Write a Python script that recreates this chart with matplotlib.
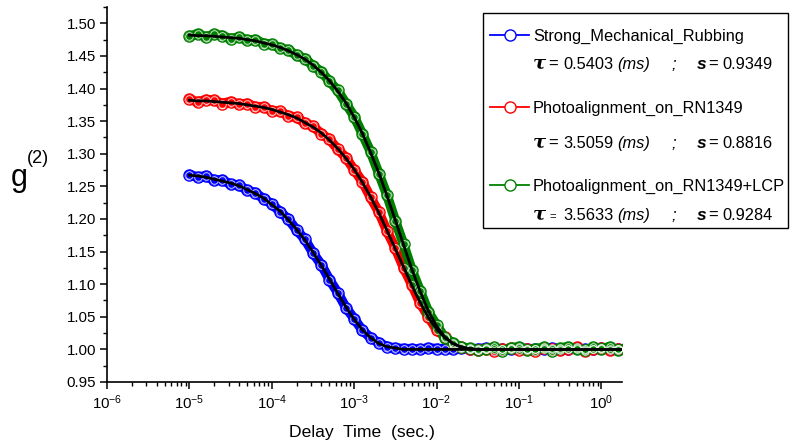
import numpy as np
import matplotlib
matplotlib.use("Agg")
import matplotlib.pyplot as plt
from matplotlib.lines import Line2D
from matplotlib.patches import Rectangle
from matplotlib.ticker import LogLocator, MultipleLocator, FormatStrFormatter, NullFormatter

plt.rcParams['font.family'] = ['Liberation Sans', 'DejaVu Sans']
plt.rcParams['mathtext.fontset'] = 'custom'
plt.rcParams['mathtext.rm'] = 'Liberation Sans'
plt.rcParams['mathtext.it'] = 'Liberation Sans:italic'
plt.rcParams['mathtext.bf'] = 'Liberation Sans:bold'
plt.rcParams['axes.unicode_minus'] = False

# delay times (s), 10 per decade
t = [1.00e-5, 1.26e-5, 1.58e-5, 2.00e-5, 2.51e-5, 3.16e-5, 3.98e-5, 5.01e-5, 6.31e-5, 7.94e-5,
     1.00e-4, 1.26e-4, 1.58e-4, 2.00e-4, 2.51e-4, 3.16e-4, 3.98e-4, 5.01e-4, 6.31e-4, 7.94e-4,
     1.00e-3, 1.26e-3, 1.58e-3, 2.00e-3, 2.51e-3, 3.16e-3, 3.98e-3, 5.01e-3, 6.31e-3, 7.94e-3,
     1.00e-2, 1.26e-2, 1.58e-2, 2.00e-2, 2.51e-2, 3.16e-2, 3.98e-2, 5.01e-2, 6.31e-2, 7.94e-2,
     1.00e-1, 1.26e-1, 1.58e-1, 2.00e-1, 2.51e-1, 3.16e-1, 3.98e-1, 5.01e-1, 6.31e-1, 7.94e-1,
     1.00, 1.26, 1.58, 2.00]

# measured g2 points
blue_data = [1.268, 1.264, 1.266, 1.259, 1.260, 1.253, 1.252, 1.244, 1.240, 1.231,
             1.223, 1.211, 1.200, 1.183, 1.169, 1.148, 1.130, 1.107, 1.087, 1.064,
             1.047, 1.029, 1.018, 1.010, 1.004, 1.002, 1.001, 1.001, 1.000, 1.002,
             1.001, 1.001, 1.000, 1.002, 1.001, 1.001, 1.002, 1.001, 1.000, 1.001,
             1.002, 1.001, 1.001, 1.000, 1.002, 1.001, 1.001, 1.002, 1.000, 1.001,
             1.002, 1.001, 1.000, 1.001]
red_data = [1.384, 1.379, 1.383, 1.382, 1.377, 1.380, 1.376, 1.377, 1.372, 1.372,
            1.366, 1.365, 1.358, 1.356, 1.347, 1.342, 1.331, 1.322, 1.307, 1.294,
            1.275, 1.257, 1.233, 1.210, 1.181, 1.155, 1.125, 1.099, 1.071, 1.050,
            1.030, 1.019, 1.008, 1.004, 1.000, 0.999, 1.001, 0.998, 1.000, 1.002,
            0.999, 1.001, 0.998, 1.002, 1.000, 0.999, 1.001, 1.003, 0.998, 1.000,
            1.002, 0.999, 1.001, 1.000]
green_data = [1.480, 1.484, 1.479, 1.483, 1.481, 1.476, 1.479, 1.474, 1.475, 1.469,
              1.468, 1.462, 1.459, 1.451, 1.446, 1.435, 1.426, 1.411, 1.397, 1.377,
              1.357, 1.330, 1.303, 1.269, 1.236, 1.197, 1.161, 1.122, 1.090, 1.058,
              1.037, 1.018, 1.010, 1.003, 1.002, 0.999, 1.001, 1.003, 0.998, 1.002,
              1.004, 0.999, 1.001, 1.003, 0.998, 1.002, 1.004, 1.000, 0.999, 1.003,
              1.001, 1.004, 0.999, 1.002]

# fitted curves
blue_fit = [1.267, 1.266, 1.264, 1.261, 1.258, 1.255, 1.251, 1.245, 1.239, 1.232,
            1.222, 1.212, 1.199, 1.184, 1.168, 1.149, 1.129, 1.108, 1.086, 1.065,
            1.046, 1.030, 1.018, 1.009, 1.004, 1.002, 1.000, 1.000, 1.000, 1.000,
            1.000, 1.000, 1.000, 1.000, 1.000, 1.000, 1.000, 1.000, 1.000, 1.000,
            1.000, 1.000, 1.000, 1.000, 1.000, 1.000, 1.000, 1.000, 1.000, 1.000,
            1.000, 1.000, 1.000, 1.000]
red_fit = [1.382, 1.381, 1.381, 1.380, 1.379, 1.378, 1.377, 1.375, 1.373, 1.371,
           1.368, 1.364, 1.360, 1.355, 1.348, 1.341, 1.332, 1.321, 1.308, 1.293,
           1.276, 1.256, 1.234, 1.209, 1.182, 1.154, 1.126, 1.098, 1.072, 1.049,
           1.031, 1.018, 1.009, 1.004, 1.001, 1.000, 1.000, 1.000, 1.000, 1.000,
           1.000, 1.000, 1.000, 1.000, 1.000, 1.000, 1.000, 1.000, 1.000, 1.000,
           1.000, 1.000, 1.000, 1.000]
green_fit = [1.482, 1.481, 1.481, 1.480, 1.479, 1.478, 1.477, 1.475, 1.473, 1.470,
             1.467, 1.463, 1.458, 1.452, 1.445, 1.436, 1.425, 1.412, 1.396, 1.378,
             1.356, 1.331, 1.302, 1.270, 1.235, 1.198, 1.160, 1.123, 1.089, 1.059,
             1.036, 1.019, 1.009, 1.003, 1.001, 1.000, 1.000, 1.000, 1.000, 1.000,
             1.000, 1.000, 1.000, 1.000, 1.000, 1.000, 1.000, 1.000, 1.000, 1.000,
             1.000, 1.000, 1.000, 1.000]

names = ['Strong_Mechanical_Rubbing', 'Photoalignment_on_RN1349', 'Photoalignment_on_RN1349+LCP']
taus = ['0.5403', '3.5059', '3.5633']
betas = ['0.9349', '0.8816', '0.9284']
colors = ['#0000ff', '#ff0000', '#008000']

W, H = 791, 448
fig = plt.figure(figsize=(W / 100, H / 100), dpi=100)
ax = fig.add_axes([107 / W, 66 / H, (622 - 107) / W, (441 - 66) / H])


def fx(x):
    return x / W


def fy(y):
    return 1 - y / H


# measured points: thick band of the series colour with hollow circles
for data, c in zip([blue_data, red_data, green_data], colors):
    ax.plot(t, data, color=c, lw=7, solid_capstyle='round', solid_joinstyle='round', zorder=2)
    ax.plot(t, data, 'o', ms=8, mfc='none', mec=c, mew=1.0, zorder=2)
    ax.plot(t, data, 'o', ms=5.5, mfc='none', mec='white', mew=0.7, alpha=0.8, zorder=3)
for fit in [blue_fit, red_fit, green_fit]:
    ax.plot(t, fit, color='black', lw=2.0, zorder=5)

ax.set_xscale('log')
ax.set_xlim(1e-6, 1.78)
ax.set_ylim(0.95, 1.525)
ax.xaxis.set_major_locator(LogLocator(base=10, numticks=10))
ax.xaxis.set_minor_locator(LogLocator(base=10, subs=np.arange(2, 10), numticks=20))
ax.xaxis.set_minor_formatter(NullFormatter())
ax.yaxis.set_major_locator(MultipleLocator(0.05))
ax.yaxis.set_minor_locator(MultipleLocator(0.025))
ax.yaxis.set_major_formatter(FormatStrFormatter('%.2f'))
for s in ['top', 'right']:
    ax.spines[s].set_visible(False)
for s in ['left', 'bottom']:
    ax.spines[s].set_linewidth(1.2)
ax.tick_params(which='major', direction='out', length=5, width=1.1, labelsize=10.8, pad=3)
ax.tick_params(which='minor', direction='out', length=3, width=1.0)

# axis titles
fig.text(fx(362), fy(432), 'Delay  Time  (sec.)', ha='center', va='center', fontsize=12.6)
fig.text(fx(11), fy(186), 'g', ha='left', va='baseline', fontsize=22)
fig.text(fx(27), fy(163), '(2)', ha='left', va='baseline', fontsize=13)

# legend box
fig.add_artist(Rectangle((fx(483), fy(228)), fx(788) - fx(483), fy(13) - fy(228),
                         transform=fig.transFigure, fill=False, ec='black', lw=1.0, zorder=10))
title_y = [35, 107, 185]
row_y = [63, 142, 214]
eq_size = [12, 12, 8]
for i in range(3):
    c = colors[i]
    y = title_y[i]
    fig.add_artist(Line2D([fx(490), fx(529)], [fy(y), fy(y)], transform=fig.transFigure,
                          color=c, lw=1.3, zorder=11))
    fig.add_artist(Line2D([fx(510)], [fy(y)], transform=fig.transFigure, marker='o', ms=8,
                          mfc='white', mec=c, mew=1.0, zorder=12))
    fig.text(fx(533), fy(y + 6), names[i], ha='left', va='baseline', fontsize=11.8)
    yb = fy(row_y[i] + 6)
    fig.text(fx(533), yb, '\u03c4', ha='left', va='baseline', fontsize=14,
             family='DejaVu Serif', weight='bold', style='italic')
    fig.text(fx(553), yb, '=', ha='center', va='baseline', fontsize=eq_size[i])
    fig.text(fx(563), yb, taus[i], ha='left', va='baseline', fontsize=11.8)
    fig.text(fx(617), yb, '(ms)', ha='left', va='baseline', fontsize=11.8, style='italic')
    fig.text(fx(674), yb, ';', ha='center', va='baseline', fontsize=11.8, style='italic')
    fig.text(fx(697), yb, 's', ha='left', va='baseline', fontsize=12.5, weight='bold', style='italic')
    fig.text(fx(713), yb, '=', ha='center', va='baseline', fontsize=12)
    fig.text(fx(722), yb, betas[i], ha='left', va='baseline', fontsize=11.8)

fig.savefig('out.png', dpi=100)
